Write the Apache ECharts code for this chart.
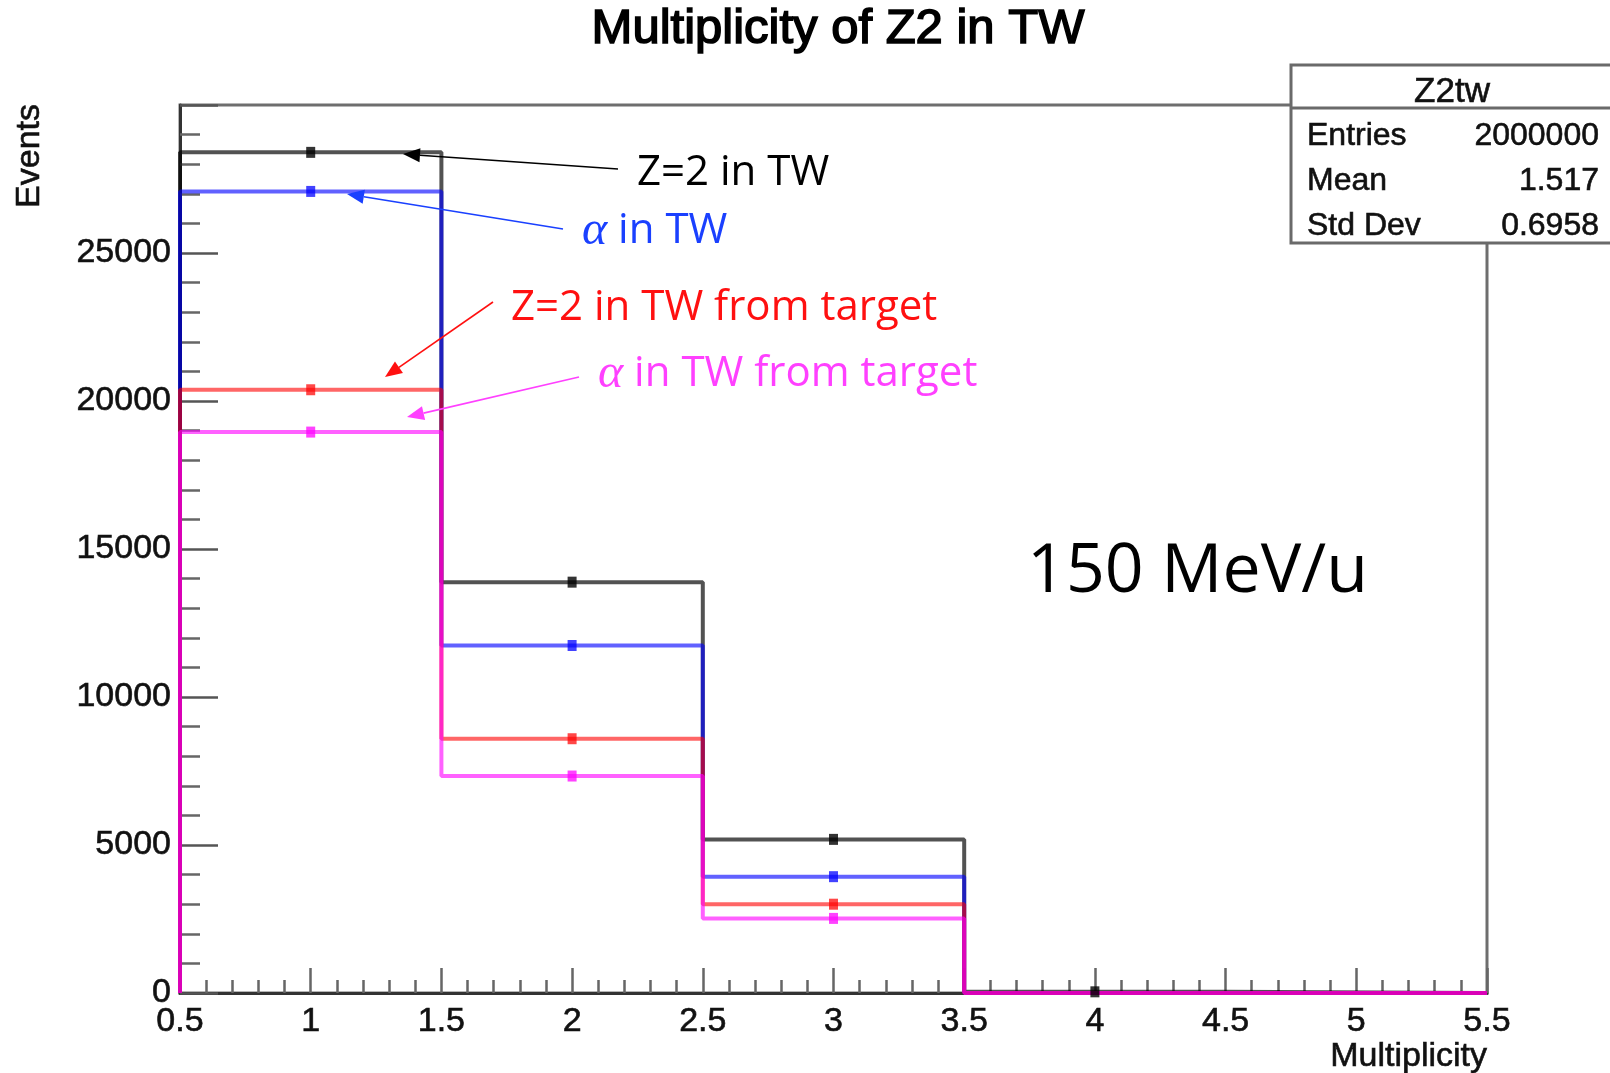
<!DOCTYPE html>
<html>
<head>
<meta charset="utf-8">
<title>Multiplicity of Z2 in TW</title>
<script src="https://cdn.jsdelivr.net/npm/echarts@6/dist/echarts.min.js"></script>
<style>
  html, body { margin: 0; padding: 0; background: #fff; }
  #chart { width: 1610px; height: 1073px; }
</style>
</head>
<body>
<div id="chart"></div>
<script>
// Histogram binning (multiplicity bins of width 1, centred on integers)
const binEdges = [0.5, 1.5, 2.5, 3.5, 4.5, 5.5];
const binCenters = [1, 2, 3, 4, 5];

// Bin contents (events per multiplicity bin)
const z2InTW          = [28400, 13880, 5190, 40, 0];
const alphaInTW       = [27080, 11740, 3930, 0, 0];
const z2FromTarget    = [20380, 8590, 3000, 0, 0];
const alphaFromTarget = [18950, 7330, 2520, 0, 0];

// Statistics box
const statsName = 'Z2tw';
const statsLabels = ['Entries', 'Mean', 'Std Dev'];
const statsValues = ['2000000', '1.517', '0.6958'];

// Axis settings
const xMin = 0.5, xMax = 5.5, xStep = 0.5;
const yMin = 0, yMax = 30000, yStep = 5000;

const HELV = '"Liberation Sans", Arial, Helvetica, sans-serif';
const NOTE = '"Open Sans", "Noto Sans", sans-serif';

// step outline of a histogram: rise from zero at the first edge, flat top over each bin
function stepOutline(counts) {
  const pts = [[binEdges[0], 0]];
  counts.forEach((c, i) => pts.push([binEdges[i], c]));
  pts.push([binEdges[binEdges.length - 1], counts[counts.length - 1]]);
  return pts;
}
// bin-centre markers, only for filled bins
function centres(counts) {
  return counts.map((c, i) => [binCenters[i], c]).filter(p => p[1] > 0);
}

const hists = [
  { name: 'Z=2 in TW', data: z2InTW, color: '#000000', alpha: 0.68 },
  { name: 'α in TW', data: alphaInTW, color: '#0000ff', alpha: 0.62 },
  { name: 'Z=2 in TW from target', data: z2FromTarget, color: '#ff0000', alpha: 0.6 },
  { name: 'α in TW from target', data: alphaFromTarget, color: '#ff00ff', alpha: 0.62 }
];

const series = [];
hists.forEach(h => {
  series.push({
    type: 'line', name: h.name, step: 'end', data: stepOutline(h.data),
    showSymbol: false, clip: false, z: 3,
    lineStyle: { color: h.color, width: 4, opacity: h.alpha },
    itemStyle: { color: h.color }
  });
  series.push({
    type: 'scatter', name: h.name + ' (bin)', data: centres(h.data),
    symbol: 'rect', symbolSize: [9, 11], clip: false, z: 4,
    itemStyle: { color: h.color, opacity: Math.min(1, h.alpha + 0.12) }
  });
});

// annotation arrow: shaft plus a filled head at the tip
function arrow(x1, y1, x2, y2, color) {
  const ang = Math.atan2(y2 - y1, x2 - x1);
  const L = 17, W = 7;
  const bx = x2 - L * Math.cos(ang), by = y2 - L * Math.sin(ang);
  const px = -Math.sin(ang) * W, py = Math.cos(ang) * W;
  return [
    { type: 'line', z: 20, shape: { x1: x1, y1: y1, x2: bx, y2: by },
      style: { stroke: color, lineWidth: 1.6 } },
    { type: 'polygon', z: 20, shape: { points: [[x2, y2], [bx + px, by + py], [bx - px, by - py]] },
      style: { fill: color } }
  ];
}

function note(x, y, text, color, size) {
  return {
    type: 'text', z: 20, x: x, y: y,
    style: {
      text: text, fill: color, font: size + 'px ' + NOTE,
      verticalAlign: 'middle', align: 'left',
      rich: {
        a: { fontFamily: '"Liberation Serif", "DejaVu Serif", serif', fontStyle: 'italic',
             fontSize: size + 6, fill: color },
        t: { fontFamily: NOTE, fontSize: size, fill: color }
      }
    }
  };
}

const statsLeft = 1291, statsTop = 65, statsHead = 108, statsBottom = 243;
const graphics = [
  // title
  { type: 'text', x: 838, y: 29, z: 20,
    style: { text: 'Multiplicity of Z2 in TW', font: '49px ' + HELV, fill: '#000',
             align: 'center', verticalAlign: 'middle', stroke: '#000', lineWidth: 1.6 } },
  // axis titles
  { type: 'text', x: 30, y: 104, rotation: Math.PI / 2, z: 20,
    style: { text: 'Events', font: '34px ' + HELV, fill: '#111', align: 'right', verticalAlign: 'middle',
             stroke: '#111', lineWidth: 0.6 } },
  { type: 'text', x: 1487, y: 1057, z: 20,
    style: { text: 'Multiplicity', font: '34px ' + HELV, fill: '#111', align: 'right', verticalAlign: 'middle',
             stroke: '#111', lineWidth: 0.6 } },
  // statistics box
  { type: 'rect', z: 15, shape: { x: statsLeft, y: statsTop, width: 340, height: statsBottom - statsTop },
    style: { fill: '#fff', stroke: '#6a6a6a', lineWidth: 3 } },
  { type: 'line', z: 16, shape: { x1: statsLeft, y1: statsHead, x2: 1612, y2: statsHead },
    style: { stroke: '#6a6a6a', lineWidth: 3 } },
  { type: 'text', x: 1452, y: 92, z: 17,
    style: { text: statsName, font: '35px ' + HELV, fill: '#111', align: 'center', verticalAlign: 'middle',
             stroke: '#111', lineWidth: 0.6 } }
];
statsLabels.forEach((lab, i) => {
  const y = 136 + i * 45;
  graphics.push({ type: 'text', x: 1307, y: y, z: 17,
    style: { text: lab, font: '32px ' + HELV, fill: '#111', align: 'left', verticalAlign: 'middle',
             stroke: '#111', lineWidth: 0.6 } });
  graphics.push({ type: 'text', x: 1599, y: y, z: 17,
    style: { text: statsValues[i], font: '32px ' + HELV, fill: '#111', align: 'right', verticalAlign: 'middle',
             stroke: '#111', lineWidth: 0.6 } });
});

// labels and arrows pointing at the four histograms
graphics.push(note(637, 173, '{t|Z=2 in TW}', '#000000', 42));
graphics.push(note(582, 231, '{a|α}{t| in TW}', '#1a40ff', 42));
graphics.push(note(511, 308, '{t|Z=2 in TW from target}', '#ff1010', 42));
graphics.push(note(598, 374, '{a|α}{t| in TW from target}', '#ff40ff', 42));
graphics.push(note(1027, 573, '{t|150 MeV/u}', '#000000', 68));
arrow(618, 169, 403, 154, '#000000').forEach(g => graphics.push(g));
arrow(563, 229, 347, 194, '#1a40ff').forEach(g => graphics.push(g));
arrow(493, 302, 385, 377, '#ff1010').forEach(g => graphics.push(g));
arrow(579, 377, 407, 417, '#ff40ff').forEach(g => graphics.push(g));

const chart = echarts.init(document.getElementById('chart'), null, { renderer: 'canvas' });
chart.setOption({
  animation: false,
  backgroundColor: '#ffffff',
  grid: { left: 180, right: 123, top: 105, bottom: 80, show: true,
          borderColor: '#6e6e6e', borderWidth: 3 },
  xAxis: {
    type: 'value', min: xMin, max: xMax, interval: xStep,
    axisLine: { show: true, onZero: false, lineStyle: { color: '#333', width: 3 } },
    axisTick: { show: true, inside: true, length: 25, lineStyle: { color: '#666', width: 2.5 } },
    minorTick: { show: true, splitNumber: 5, length: 13, lineStyle: { color: '#666', width: 2.5 } },
    splitLine: { show: false },
    axisLabel: { fontFamily: HELV, fontSize: 34, color: '#111', margin: 12,
                 textBorderColor: '#111', textBorderWidth: 0.6,
                 formatter: v => String(+v.toFixed(1)) }
  },
  yAxis: {
    type: 'value', min: yMin, max: yMax, interval: yStep,
    axisLine: { show: true, lineStyle: { color: '#333', width: 3 } },
    axisTick: { show: true, inside: true, length: 38, lineStyle: { color: '#555', width: 2.5 } },
    minorTick: { show: true, splitNumber: 5, length: 20, lineStyle: { color: '#666', width: 2.5 } },
    splitLine: { show: false },
    axisLabel: { fontFamily: HELV, fontSize: 34, color: '#111', margin: 9,
                 textBorderColor: '#111', textBorderWidth: 0.6,
                 formatter: v => (v < yMax ? String(v) : '') }
  },
  series: series,
  graphic: graphics
});
</script>
</body>
</html>
